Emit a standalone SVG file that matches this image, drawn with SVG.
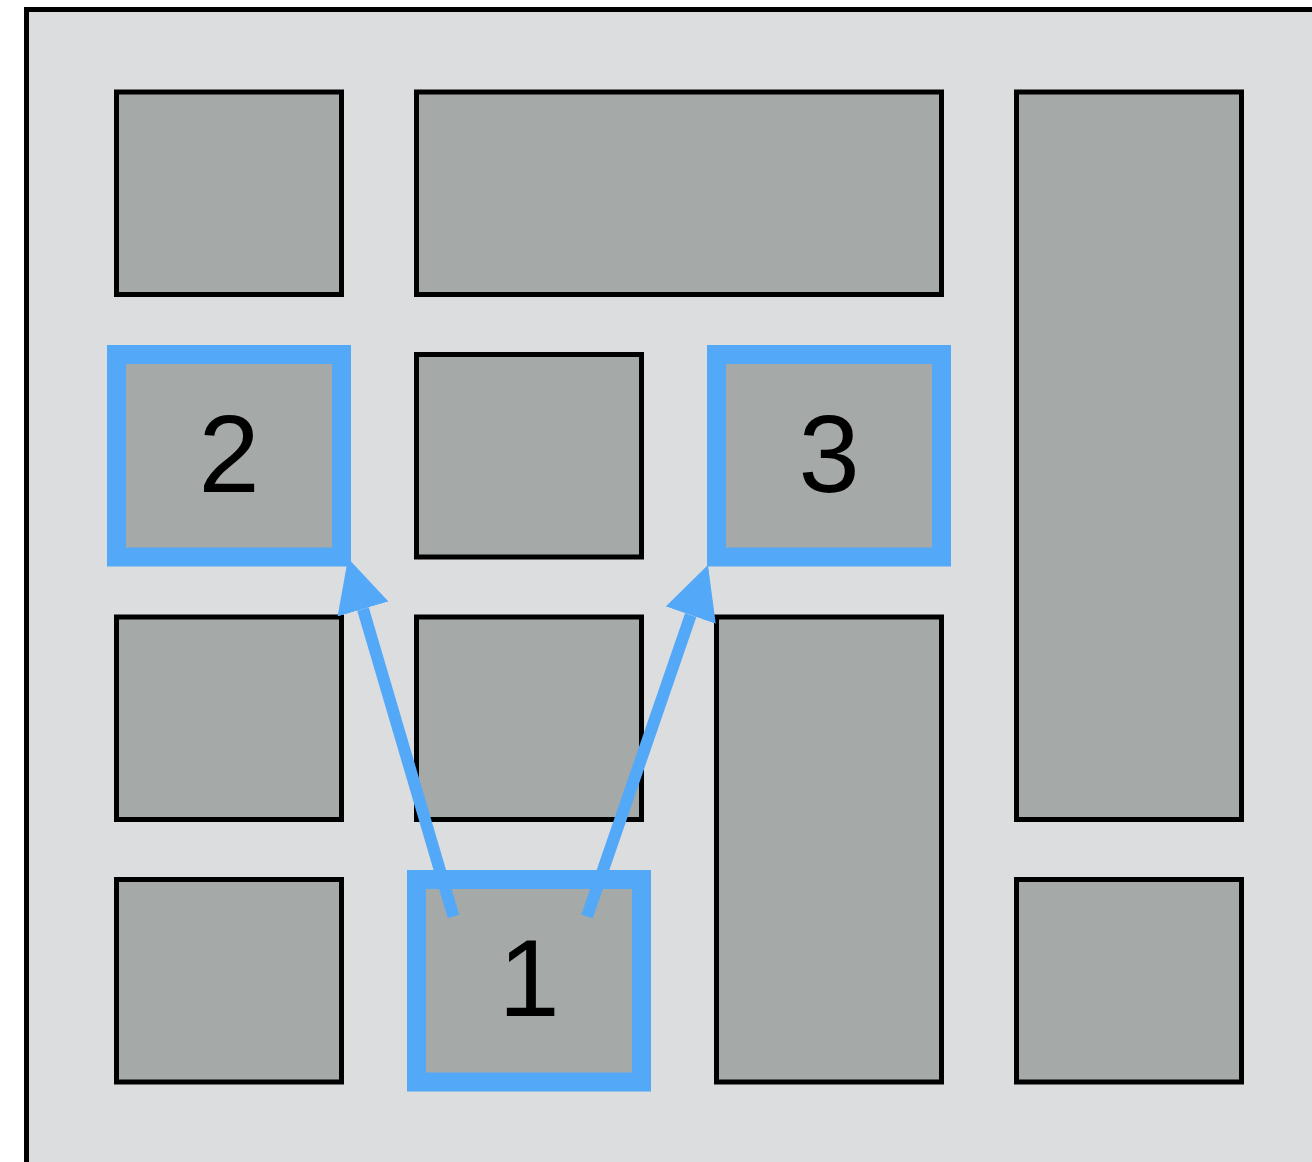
<svg xmlns="http://www.w3.org/2000/svg" width="1312" height="1162" viewBox="0 0 1312 1162">
<style>
.frame{fill:#dcdddf;stroke:#000;stroke-width:5}
.cell{fill:#a5a9a8;stroke:#000;stroke-width:5}
.hl{fill:#a5a9a8;stroke:#53a9f8;stroke-width:19}
.lbl{font-family:"Liberation Sans",Arial,sans-serif;font-size:110px;fill:#000;text-anchor:middle}
.conn{stroke:#53a9f8;stroke-width:12;fill:none}
</style>
<defs>
<marker id="ah" markerUnits="userSpaceOnUse" markerWidth="54" markerHeight="54" refX="0" refY="26.5" orient="auto" viewBox="0 0 54 54">
<path d="M0,0 L53,26.5 L0,53 z" fill="#53a9f8"/>
</marker>
</defs>
<rect id="frame" class="frame" x="26.5" y="9.5" width="1300" height="1170"/>
<g id="cells">
<rect id="c11" class="cell" x="116.5" y="92" width="225" height="202.5"/>
<rect id="c12" class="cell" x="416.5" y="92" width="525" height="202.5"/>
<rect id="c14" class="cell" x="1016.5" y="92" width="225" height="727.5"/>
<rect id="c22" class="cell" x="416.5" y="354.5" width="225" height="202.5"/>
<rect id="c31" class="cell" x="116.5" y="617" width="225" height="202.5"/>
<rect id="c32" class="cell" x="416.5" y="617" width="225" height="202.5"/>
<rect id="c33" class="cell" x="716.5" y="617" width="225" height="465"/>
<rect id="c41" class="cell" x="116.5" y="879.5" width="225" height="202.5"/>
<rect id="c44" class="cell" x="1016.5" y="879.5" width="225" height="202.5"/>
</g>
<g id="node2">
<rect class="hl" x="116.5" y="354.5" width="225" height="202.5"/>
<text class="lbl" x="229" y="492">2</text>
</g>
<g id="node3">
<rect class="hl" x="716.5" y="354.5" width="225" height="202.5"/>
<text class="lbl" x="829" y="492">3</text>
</g>
<g id="node1">
<rect class="hl" x="416.5" y="879.5" width="225" height="202.5"/>
<text class="lbl" x="529" y="1016">1</text>
</g>
<g id="connectors">
<line class="conn" x1="453.5" y1="916.5" x2="363" y2="609" marker-end="url(#ah)"/>
<line class="conn" x1="587" y1="916.5" x2="690.7" y2="615.1" marker-end="url(#ah)"/>
</g>
</svg>
